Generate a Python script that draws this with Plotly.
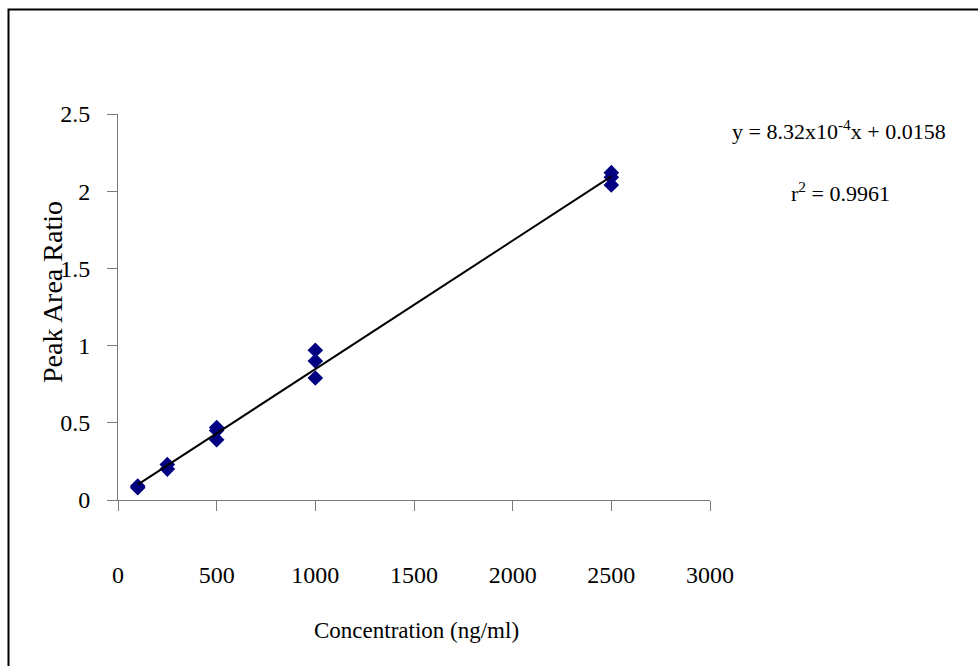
import plotly.graph_objects as go

# Calibration standards: concentration (ng/ml) and measured peak area ratio
concentration = [100, 100, 250, 250, 500, 500, 500, 1000, 1000, 1000, 2500, 2500, 2500]
peak_area_ratio = [0.08, 0.09, 0.23, 0.20, 0.47, 0.45, 0.39, 0.97, 0.90, 0.79, 2.12, 2.09, 2.04]

# Least-squares fit reported on the chart
slope = 8.32e-4
intercept = 0.0158
r_squared = 0.9961
fit_x = [min(concentration), max(concentration)]
fit_y = [slope * v + intercept for v in fit_x]

x_ticks = [0, 500, 1000, 1500, 2000, 2500, 3000]
y_ticks = [0, 0.5, 1, 1.5, 2, 2.5]

FONT = "Liberation Serif"
W, H = 978, 666

fig = go.Figure()
fig.add_trace(go.Scatter(
    x=concentration, y=peak_area_ratio, mode="markers",
    marker=dict(symbol="diamond", size=12, color="#000080",
                line=dict(width=0)),
    showlegend=False,
))
fig.add_trace(go.Scatter(
    x=fit_x, y=fit_y, mode="lines",
    line=dict(color="black", width=2),
    showlegend=False,
))

axis_common = dict(
    showgrid=False, zeroline=False, showline=True, automargin=False,
    linecolor="#7a7a7a", linewidth=1,
    ticks="outside", ticklen=10, tickcolor="#7a7a7a", tickwidth=1,
    tickfont=dict(family=FONT, size=24, color="black"),
)


def label(text, px, py, size, angle=0):
    # place a text centred on a pixel position of the page
    return dict(text=text, xref="paper", yref="paper",
                x=px / W, y=(H - py) / H, xanchor="center", yanchor="middle",
                textangle=angle, showarrow=False,
                font=dict(family=FONT, size=size, color="black"))


fig.update_layout(
    template="none",
    width=W, height=H,
    margin=dict(l=0, r=0, t=0, b=0, pad=0, autoexpand=False),
    paper_bgcolor="white", plot_bgcolor="white",
    font=dict(family=FONT, size=22, color="black"),
    xaxis=dict(
        **axis_common,
        domain=[118 / W, 710 / W],
        range=[0, 3000],
        tickvals=x_ticks, ticktext=[str(v) for v in x_ticks],
        ticklabelstandoff=43,
        anchor="y",
    ),
    yaxis=dict(
        **axis_common,
        domain=[(H - 500) / H, (H - 114) / H],
        range=[0, 2.5],
        tickvals=y_ticks, ticktext=["0", "0.5", "1", "1.5", "2", "2.5"],
        ticklabelstandoff=12,
        anchor="x",
    ),
    annotations=[
        label("Peak Area Ratio", 52, 292, 28, angle=-90),
        label("Concentration (ng/ml)", 416, 630, 23),
        label("y = 8.32x10<sup>-4</sup>x + 0.0158", 839, 130, 22),
        label("r<sup>2</sup> = %.4f" % r_squared, 840, 192, 22),
    ],
    shapes=[
        dict(type="rect", xref="paper", yref="paper",
             x0=8.5 / W, x1=1.05, y0=-0.05, y1=1 - 9.5 / H,
             line=dict(color="black", width=2), layer="above"),
    ],
)

fig.write_html("out.html")
